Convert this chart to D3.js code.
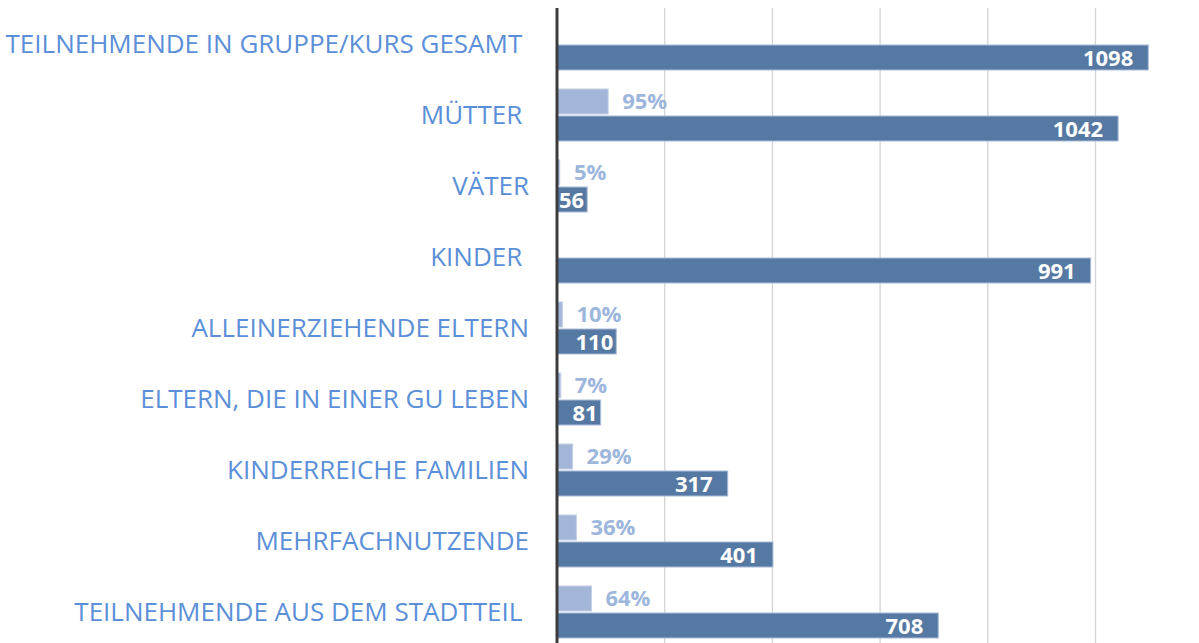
<!DOCTYPE html>
<html>
<head>
<meta charset="utf-8">
<script src="https://cdn.jsdelivr.net/npm/d3@7"></script>
<style>
  body { margin: 0; background: #fff; }
  svg { display: block; }
  .cat { white-space: pre; }
</style>
</head>
<body>
<svg id="chart" width="1199" height="643"></svg>
<script>
// Categories (top to bottom), counts and shares
const categories = [
    "TEILNEHMENDE IN GRUPPE/KURS GESAMT ",
    "MÜTTER ",
    "VÄTER",
    "KINDER ",
    "ALLEINERZIEHENDE ELTERN",
    "ELTERN, DIE IN EINER GU LEBEN",
    "KINDERREICHE FAMILIEN",
    "MEHRFACHNUTZENDE",
    "TEILNEHMENDE AUS DEM STADTTEIL "
];
const counts = [1098, 1042, 56, 991, 110, 81, 317, 401, 708];
const shares = [null, 95, 5, null, 10, 7, 29, 36, 64];
const gridTicks = [200, 400, 600, 800, 1000];

const svg = d3.select("#chart");
const font = "'Open Sans', 'Noto Sans', sans-serif";

const x = d3.scaleLinear().domain([0, 1000]).range([557, 1095.5]);
const y = d3.scaleBand().domain(categories).range([8.5, 647.5]).padding(0);
const mid = c => y(c) + y.bandwidth() / 2;

// Gridlines
svg.append("g")
    .selectAll("line")
    .data(gridTicks)
    .enter()
    .append("line")
    .attr("x1", d => x(d)).attr("x2", d => x(d))
    .attr("y1", 8).attr("y2", 643)
    .attr("stroke", "#d4d4d4")
    .attr("stroke-width", 1.3);

const rows = categories.map((c, i) => ({ cat: c, count: counts[i], share: shares[i] }));

// Share bars (light)
svg.append("g")
    .selectAll("rect")
    .data(rows.filter(d => d.share !== null))
    .enter()
    .append("rect")
    .attr("x", x(0))
    .attr("y", d => mid(d.cat) - 26)
    .attr("width", d => x(d.share) - x(0))
    .attr("height", 25)
    .attr("fill", "#a3b6d7")
    .attr("stroke", "#c3d0e6")
    .attr("stroke-width", 1);

// Count bars (dark)
svg.append("g")
    .selectAll("rect")
    .data(rows)
    .enter()
    .append("rect")
    .attr("x", x(0))
    .attr("y", d => mid(d.cat) + 1)
    .attr("width", d => x(d.count) - x(0))
    .attr("height", 25)
    .attr("fill", "#5679a3")
    .attr("stroke", "#a8bcd8")
    .attr("stroke-width", 1);

// Axis line
svg.append("line")
    .attr("x1", x(0)).attr("x2", x(0))
    .attr("y1", 8).attr("y2", 643)
    .attr("stroke", "#3c3c3c")
    .attr("stroke-width", 3);

// Category labels
svg.append("g")
    .selectAll("text")
    .data(categories)
    .enter()
    .append("text")
    .attr("class", "cat")
    .attr("x", 529)
    .attr("y", d => mid(d))
    .attr("dy", "0.36em")
    .attr("text-anchor", "end")
    .attr("font-family", font)
    .attr("font-size", 26)
    .attr("fill", "#5b8fd8")
    .text(d => d);

// Count labels
svg.append("g")
    .selectAll("text")
    .data(rows)
    .enter()
    .append("text")
    .attr("x", d => (x(d.count) - x(0) < 70 ? x(d.count) - 3 : x(d.count) - 15))
    .attr("y", d => mid(d.cat) + 14)
    .attr("dy", "0.36em")
    .attr("text-anchor", "end")
    .attr("font-family", font)
    .attr("font-weight", "bold")
    .attr("font-size", 22)
    .attr("fill", "#ffffff")
    .text(d => d.count);

// Share labels
svg.append("g")
    .selectAll("text")
    .data(rows.filter(d => d.share !== null))
    .enter()
    .append("text")
    .attr("x", d => Math.max(x(d.share), x(0) + 3) + 14)
    .attr("y", d => mid(d.cat) - 14)
    .attr("dy", "0.36em")
    .attr("font-family", font)
    .attr("font-weight", "bold")
    .attr("font-size", 22)
    .attr("fill", "#9cb6dc")
    .text(d => d.share + "%");
</script>
</body>
</html>
